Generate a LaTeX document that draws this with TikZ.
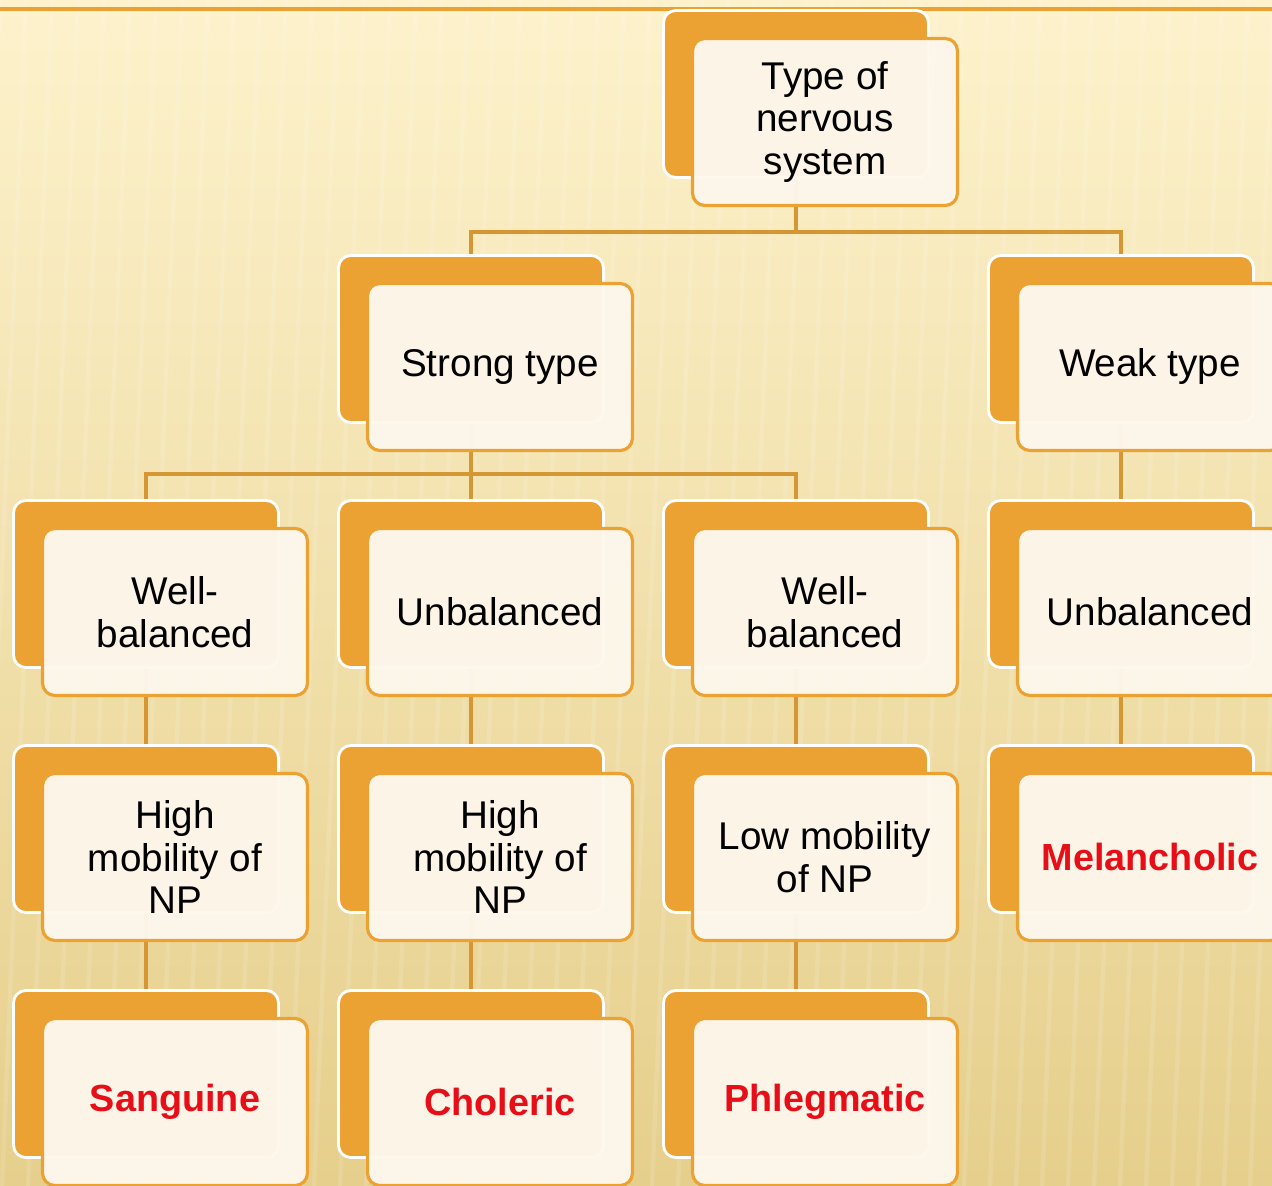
\documentclass[tikz,border=0pt]{standalone}
\usepackage{fontspec}
\setmainfont{Liberation Sans}
\usepackage{tikz}
\usetikzlibrary{positioning, backgrounds}
\definecolor{cardorange}{RGB}{236, 162, 50}
\definecolor{cardcream}{RGB}{253, 247, 236}
\definecolor{linkbrown}{RGB}{214, 150, 52}
\definecolor{bgtop}{RGB}{253, 242, 204}
\definecolor{bgmid}{RGB}{248, 233, 180}
\definecolor{bgbottom}{RGB}{230, 207, 140}
\definecolor{typered}{RGB}{232, 14, 24}

\begin{document}
\begin{tikzpicture}[x=0.02cm, y=-0.02cm,
			back/.style={rectangle, draw=white, line width=1.6pt, rounded corners=7pt, fill=cardorange, minimum width=5.3cm, minimum height=3.34cm},
			card/.style={rectangle, draw=cardorange, line width=1.8pt, rounded corners=7pt, fill=cardcream, fill opacity=0.97, text opacity=1, minimum width=5.3cm, minimum height=3.34cm, align=center, font=\fontsize{22}{24.4}\selectfont},
			result/.style={card, text=typered, font=\fontsize{21.5}{24.4}\selectfont\bfseries},
			link/.style={draw=linkbrown, line width=2.3pt}
		]
		\useasboundingbox (0,0) rectangle (1272,1186);
		
		% Back plates
		\node[back] (rootb) at (796,94) {};
		\node[back] (strongb) at (471,339) {};
		\node[back] (weakb) at (1121,339) {};
		\node[back] (wellab) at (146,584) {};
		\node[back] (unbalsb) at (471,584) {};
		\node[back] (wellbb) at (796,584) {};
		\node[back] (unbalwb) at (1121,584) {};
		\node[back] (higha) at (146,829) {};
		\node[back] (highb) at (471,829) {};
		\node[back] (lowb) at (796,829) {};
		\node[back] (melb) at (1121,829) {};
		\node[back] (sangb) at (146,1074) {};
		\node[back] (cholb) at (471,1074) {};
		\node[back] (phlegb) at (796,1074) {};
		
		% Front cards
		\node[card] (root) at ([xshift=0.58cm, yshift=-0.56cm]rootb.center) {Type of\\nervous\\system};
		\node[card] (strong) at ([xshift=0.58cm, yshift=-0.56cm]strongb.center) {Strong type};
		\node[card] (weak) at ([xshift=0.58cm, yshift=-0.56cm]weakb.center) {Weak type};
		\node[card] (wella) at ([xshift=0.58cm, yshift=-0.56cm]wellab.center) {Well-\\balanced};
		\node[card] (unbals) at ([xshift=0.58cm, yshift=-0.56cm]unbalsb.center) {Unbalanced};
		\node[card] (wellb) at ([xshift=0.58cm, yshift=-0.56cm]wellbb.center) {Well-\\balanced};
		\node[card] (unbalw) at ([xshift=0.58cm, yshift=-0.56cm]unbalwb.center) {Unbalanced};
		\node[card] (high1) at ([xshift=0.58cm, yshift=-0.56cm]higha.center) {High\\mobility of\\NP};
		\node[card] (high2) at ([xshift=0.58cm, yshift=-0.56cm]highb.center) {High\\mobility of\\NP};
		\node[card] (low) at ([xshift=0.58cm, yshift=-0.56cm]lowb.center) {Low mobility\\of NP};
		\node[result] (mel) at ([xshift=0.58cm, yshift=-0.56cm]melb.center) {Melancholic};
		\node[result] (sang) at ([xshift=0.58cm, yshift=-0.56cm]sangb.center) {Sanguine};
		\node[result] (chol) at ([xshift=0.58cm, yshift=-0.56cm]cholb.center) {Choleric};
		\node[result] (phleg) at ([xshift=0.58cm, yshift=-0.56cm]phlegb.center) {Phlegmatic};
		
		\begin{scope}[on background layer]
		% Backdrop
		\fill[top color=bgtop, middle color=bgmid, bottom color=bgbottom] (0,0) rectangle (1272,1186);
		\foreach \s in {0,26,...,1300}
			\draw[white, opacity=0.12, line width=2.5pt] (\s-50,1186) -- (\s,0);
		\draw[cardorange, line width=2.2pt] (0,9) -- (1272,9);
		
		% Tree connectors
		\coordinate (j1) at (796,232);
		\coordinate (j2) at (471,474);
		\draw[link] (rootb.center) -- (j1);
		\draw[link] (strongb.center) |- (j1) -| (weakb.center);
		\draw[link] (strongb.center) -- (unbalsb.center);
		\draw[link] (wellab.center) |- (j2) -| (wellbb.center);
		\draw[link] (weakb.center) -- (unbalwb.center);
		\draw[link] (wellab.center) -- (higha.center);
		\draw[link] (unbalsb.center) -- (highb.center);
		\draw[link] (wellbb.center) -- (lowb.center);
		\draw[link] (unbalwb.center) -- (melb.center);
		\draw[link] (higha.center) -- (sangb.center);
		\draw[link] (highb.center) -- (cholb.center);
		\draw[link] (lowb.center) -- (phlegb.center);
		\end{scope}
		\end{tikzpicture}
\end{document}
